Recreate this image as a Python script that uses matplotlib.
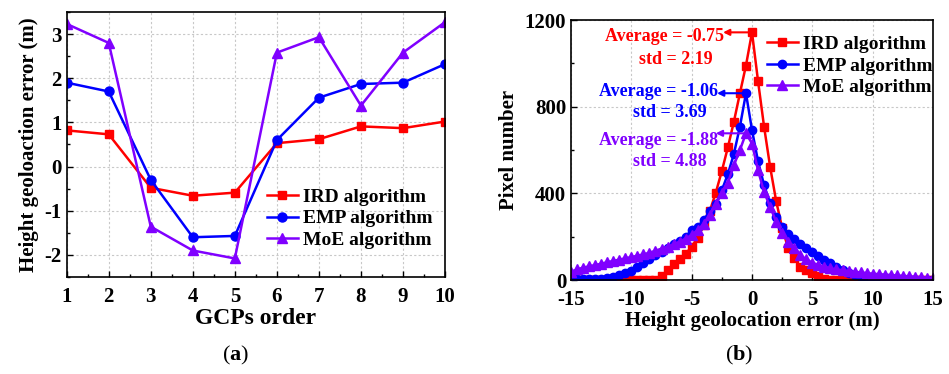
import numpy as np
import matplotlib.pyplot as plt
from matplotlib.ticker import MultipleLocator

plt.rcParams['font.family'] = ['Liberation Serif', 'DejaVu Serif']
plt.rcParams['font.weight'] = 'bold'
plt.rcParams['axes.labelweight'] = 'bold'
plt.rcParams['axes.unicode_minus'] = False
plt.rcParams['mathtext.fontset'] = 'custom'
plt.rcParams['mathtext.rm'] = 'Liberation Serif'
plt.rcParams['mathtext.bf'] = 'Liberation Serif:bold'

RED = '#ff0000'
BLUE = '#0000ff'
PURPLE = '#8000ff'

# (a) height error per GCP
gcp = [1, 2, 3, 4, 5, 6, 7, 8, 9, 10]
ird_err = [0.82, 0.73, -0.48, -0.66, -0.59, 0.53, 0.62, 0.91, 0.87, 1.02]
emp_err = [1.90, 1.70, -0.30, -1.60, -1.57, 0.60, 1.56, 1.87, 1.90, 2.32]
moe_err = [3.23, 2.80, -1.36, -1.90, -2.08, 2.58, 2.93, 1.38, 2.58, 3.27]

# (b) histogram of height error, bins -15..15 step 0.5
bins = np.arange(-15, 15.5, 0.5)
ird_hist = [0, 0, 0, 0, 0, 0, 0, 0, 0, 0, 0, 0, 0, 0, 0,
            18, 46, 72, 95, 120, 154, 195, 252, 318, 403, 503, 612, 731, 862, 990, 1143,
            918, 708, 523, 365, 240, 146, 100, 62, 46, 34, 20, 5, 2, 1,
            0, 0, 0, 0, 0, 0, 0, 0, 0, 0, 0, 0, 0, 0, 0, 0]
emp_hist = [3, 3, 3, 3, 4, 6, 10, 15, 22, 31, 42, 62, 78, 97, 114, 131, 149, 165, 182, 200,
            231, 246, 277, 318, 351, 414, 489, 582, 708, 862, 692,
            548, 438, 354, 289, 246, 211, 188, 166, 146, 128, 109, 92, 77, 62, 46,
            34, 22, 12, 8, 5, 3, 2, 1, 1, 0, 0, 0, 0, 0, 0]
moe_hist = [38, 49, 57, 63, 69, 75, 82, 88, 94, 100, 106, 112, 118, 126, 135, 145, 154, 165, 177, 191,
            208, 231, 258, 300, 350, 400, 448, 530, 600, 677, 630,
            506, 406, 338, 269, 218, 177, 146, 115, 95, 80, 69, 62, 54, 49, 45,
            42, 38, 35, 32, 29, 27, 25, 23, 21, 19, 17, 15, 13, 11, 8]

labels = ['IRD algorithm', 'EMP algorithm', 'MoE algorithm']
avg_text = ['Average = -0.75', 'Average = -1.06', 'Average = -1.88']
std_text = ['std = 2.19', 'std = 3.69', 'std = 4.88']

fig = plt.figure(figsize=(9.49, 3.74), dpi=100)
W, H = 949, 374


def px_axes(x0, y0, x1, y1):
    return fig.add_axes([x0 / W, 1 - y1 / H, (x1 - x0) / W, (y1 - y0) / H])


def style(ax):
    ax.tick_params(which='both', direction='in', top=False, right=False,
                   labelsize=15, width=1)
    ax.tick_params(which='major', length=4)
    ax.tick_params(which='minor', length=2.5)
    ax.tick_params(axis='x', pad=7)
    ax.grid(True, which='major', linestyle=(0, (2, 2)), color='#c8c8c8', linewidth=0.8)
    for s in ax.spines.values():
        s.set_linewidth(1.2)


# ---- (a)
ax1 = px_axes(66.7, 12, 445, 277)
ax1.plot(gcp, ird_err, color=RED, marker='s', ms=6, lw=1.8, label=labels[0])
ax1.plot(gcp, emp_err, color=BLUE, marker='o', ms=6.5, lw=1.8, label=labels[1])
ax1.plot(gcp, moe_err, color=PURPLE, marker='^', ms=7, lw=1.8, label=labels[2])
ax1.set_xlim(1, 10)
ax1.set_ylim(-2.5, 3.5)
ax1.xaxis.set_major_locator(MultipleLocator(1))
ax1.xaxis.set_minor_locator(MultipleLocator(0.5))
ax1.yaxis.set_major_locator(MultipleLocator(1))
ax1.yaxis.set_minor_locator(MultipleLocator(0.5))
style(ax1)
ax1.set_xlabel('GCPs order', fontsize=17, labelpad=1)
ax1.set_ylabel('Height geoloaction error (m)', fontsize=15, labelpad=4)
ax1.legend(loc='upper left', bbox_to_anchor=(0.529, 0.335), frameon=False,
           fontsize=14, handlelength=1.6, handletextpad=0.25, labelspacing=0.2,
           borderpad=0, borderaxespad=0)

# ---- (b)
ax2 = px_axes(571, 20, 933, 280)
ax2.plot(bins, ird_hist, color=RED, marker='s', ms=5.5, lw=1.8, label=labels[0])
ax2.plot(bins, emp_hist, color=BLUE, marker='o', ms=6, lw=1.8, label=labels[1])
ax2.plot(bins, moe_hist, color=PURPLE, marker='^', ms=6.5, lw=1.8, label=labels[2])
ax2.set_xlim(-15, 15)
ax2.set_ylim(0, 1200)
ax2.xaxis.set_major_locator(MultipleLocator(5))
ax2.xaxis.set_minor_locator(MultipleLocator(2.5))
ax2.yaxis.set_major_locator(MultipleLocator(400))
ax2.yaxis.set_minor_locator(MultipleLocator(200))
style(ax2)
ax2.set_xlabel('Height geolocation error (m)', fontsize=15, labelpad=1)
ax2.set_ylabel('Pixel number', fontsize=15, labelpad=4)
ax2.legend(loc='upper left', bbox_to_anchor=(0.541, 0.94), frameon=False,
           fontsize=14, handlelength=1.6, handletextpad=0.25, labelspacing=0.2,
           borderpad=0, borderaxespad=0)

# annotations: arrow from peak pointing left, then text
peaks = [(0, 1143), (-0.5, 862), (-0.5, 677)]
arrow_end = [-2.4, -2.9, -3.0]
avg_y = [1123, 869, 646]
std_y = [1020, 772, 546]
avg_x = [-2.3, -2.8, -2.8]
std_x = [-3.3, -3.8, -3.8]
for (px, py), xe, ay, sy, axx, sx, c, t1, t2 in zip(peaks, arrow_end, avg_y, std_y,
                                                    avg_x, std_x, [RED, BLUE, PURPLE],
                                                    avg_text, std_text):
    ax2.annotate('', xy=(xe, py), xytext=(px, py),
                 arrowprops=dict(arrowstyle='-|>', color=c, lw=1.5,
                                 mutation_scale=9, shrinkA=0, shrinkB=0))
    ax2.text(axx, ay, t1, color=c, fontsize=13, ha='right', va='center')
    ax2.text(sx, sy, t2, color=c, fontsize=13, ha='right', va='center')

fig.text(236 / W, 1 - 355 / H, r'($\mathbf{a}$)', fontsize=16, fontweight='normal',
         ha='center', va='center')
fig.text(739 / W, 1 - 355 / H, r'($\mathbf{b}$)', fontsize=16, fontweight='normal',
         ha='center', va='center')

fig.savefig('out.png', dpi=100)
